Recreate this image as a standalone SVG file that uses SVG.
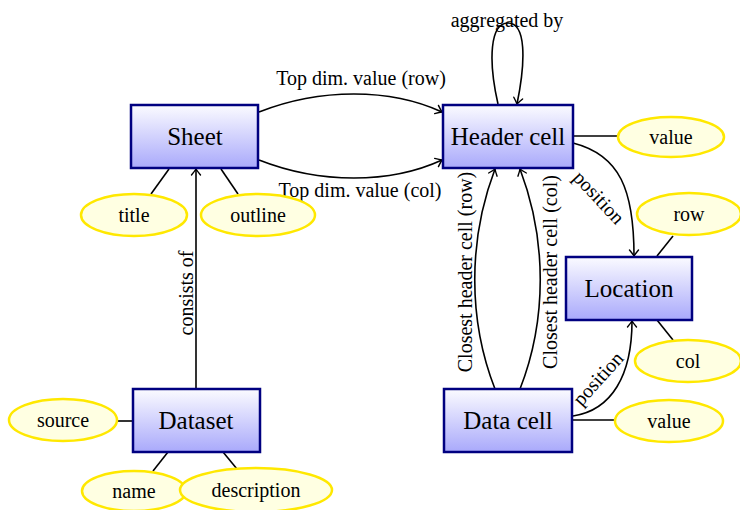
<svg xmlns="http://www.w3.org/2000/svg" width="740" height="510" viewBox="0 0 740 510">
<defs>
<linearGradient id="boxg" x1="0" y1="0" x2="0" y2="1">
<stop offset="0" stop-color="#fbfbff"/>
<stop offset="1" stop-color="#a9a9fb"/>
</linearGradient>
<marker id="arr" markerUnits="userSpaceOnUse" markerWidth="14" markerHeight="14" viewBox="-8 -7 10 14" refX="0" refY="0" orient="auto">
<path d="M-6,-4.5 Q-2,-1.2 0,0 Q-2,1.2 -6,4.5" fill="none" stroke="#000" stroke-width="1.4" stroke-linecap="round"/>
</marker>
</defs>
<style>
.box{fill:url(#boxg);stroke:#000080;stroke-width:2.5}
.ell{fill:#ffffe2;stroke:#ffe800;stroke-width:2.5}
.nt{font-family:"Liberation Serif",serif;font-size:25px;text-anchor:middle;fill:#000}
.et{font-family:"Liberation Serif",serif;font-size:20px;text-anchor:middle;fill:#000}
.lt{font-family:"Liberation Serif",serif;font-size:20px;text-anchor:middle;fill:#000}
.c{fill:none;stroke:#000;stroke-width:1.6}
.a{fill:none;stroke:#000;stroke-width:1.6;marker-end:url(#arr)}
</style>
<rect width="740" height="510" fill="#fff"/>
<g id="connectors">
<line class="c" x1="169" y1="169" x2="151" y2="194"/>
<line class="c" x1="221" y1="169" x2="238" y2="194"/>
<line class="c" x1="117" y1="421" x2="132" y2="421"/>
<line class="c" x1="168" y1="452" x2="153" y2="471"/>
<line class="c" x1="223" y1="452" x2="237" y2="469"/>
<line class="c" x1="573" y1="136" x2="618" y2="136"/>
<line class="c" x1="573" y1="420" x2="615" y2="420"/>
<line class="c" x1="657" y1="256" x2="673" y2="236"/>
<line class="c" x1="657" y1="320" x2="673" y2="340"/>
<path class="a" d="M259,112 C320,88 390,88 442,112"/>
<path class="a" d="M259,160 C320,184 390,184 442,160"/>
<path class="a" d="M498,104 C488,60 490,23 508,23 C526,23 526,60 517,104"/>
<path class="a" d="M573,143 C620,155 634,190 634,256"/>
<path class="a" d="M573,416 C612,410 632,375 632,321"/>
<path class="a" d="M495,389 C468,320 468,240 495,169"/>
<path class="a" d="M520,389 C547,320 547,240 520,169"/>
<path class="a" d="M196,389 L196,169"/>
<text class="lt" x="361" y="85">Top dim. value (row)</text>
<text class="lt" x="360" y="197">Top dim. value (col)</text>
<text class="lt" x="507" y="27">aggregated by</text>
<text class="lt" transform="translate(472,272) rotate(-90)">Closest header cell (row)</text>
<text class="lt" transform="translate(557,272) rotate(-90)">Closest header cell (col)</text>
<text class="lt" transform="translate(193,293) rotate(-90)">consists of</text>
<text class="lt" transform="translate(594,202) rotate(47)">position</text>
<text class="lt" transform="translate(603,383) rotate(-48)">position</text>
</g>
<g id="sheet"><rect class="box" x="131" y="105" width="127" height="63"/><text class="nt" x="195" y="145">Sheet</text></g>
<g id="header-cell"><rect class="box" x="443" y="105" width="130" height="63"/><text class="nt" x="508" y="145">Header cell</text></g>
<g id="location"><rect class="box" x="566" y="257" width="126" height="63"/><text class="nt" x="629" y="297">Location</text></g>
<g id="data-cell"><rect class="box" x="444" y="389" width="128" height="63"/><text class="nt" x="508" y="429">Data cell</text></g>
<g id="dataset"><rect class="box" x="133" y="389" width="127" height="63"/><text class="nt" x="196" y="429">Dataset</text></g>
<g id="title"><ellipse class="ell" cx="134" cy="215" rx="53" ry="21"/><text class="et" x="134" y="222">title</text></g>
<g id="outline"><ellipse class="ell" cx="258" cy="215" rx="57" ry="21"/><text class="et" x="258" y="222">outline</text></g>
<g id="hc-value"><ellipse class="ell" cx="671" cy="137" rx="53" ry="20"/><text class="et" x="671" y="144">value</text></g>
<g id="row"><ellipse class="ell" cx="689" cy="214" rx="52" ry="21"/><text class="et" x="689" y="221">row</text></g>
<g id="col"><ellipse class="ell" cx="688" cy="361" rx="53" ry="21"/><text class="et" x="688" y="368">col</text></g>
<g id="dc-value"><ellipse class="ell" cx="669" cy="421" rx="54" ry="21"/><text class="et" x="669" y="428">value</text></g>
<g id="source"><ellipse class="ell" cx="63" cy="420" rx="54" ry="21"/><text class="et" x="63" y="427">source</text></g>
<g id="name"><ellipse class="ell" cx="134" cy="491" rx="52" ry="20"/><text class="et" x="134" y="498">name</text></g>
<g id="description"><ellipse class="ell" cx="256" cy="490" rx="76" ry="22"/><text class="et" x="256" y="497">description</text></g>
</svg>
